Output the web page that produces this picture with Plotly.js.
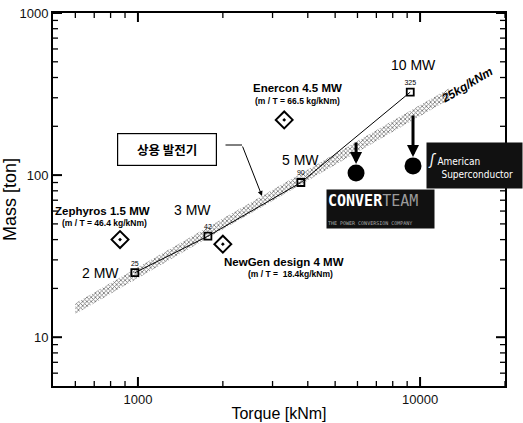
<!DOCTYPE html>
<html>
<head>
<meta charset="utf-8">
<script src="https://cdn.plot.ly/plotly-3.0.1.min.js"></script>
<style>html,body{margin:0;padding:0;background:#fff;}#chart{width:523px;height:423px;}</style>
</head>
<body>
<div id="chart"></div>
<script>
// Generator design points (torque kNm, mass ton)
const genTorque = [975, 1770, 3780, 9230];
const genMass = [25, 42, 90, 325];
const genMassLabels = ['25', '42', '90', '325'];
const genPowerLabels = ['2 MW', '3 MW', '5 MW', '10 MW'];

// Reference machines (diamonds)
const refNames = ['Zephyros 1.5 MW', 'NewGen design 4 MW', 'Enercon 4.5 MW'];
const refRatios = ['(m / T = 46.4 kg/kNm)', '(m / T =  18.4kg/kNm)', '(m / T = 66.5 kg/kNm)'];
const refTorque = [864, 2000, 3300];
const refMass = [40, 37.5, 219];

// Superconducting machines (filled circles)
const hts = ['Converteam', 'American Superconductor'];
const htsTorque = [5930, 9440];
const htsMass = [103, 114];

// 25 kg/kNm band
const bandTorque = [600, 12700];
const bandRatio = 25;   // kg/kNm
const bandSpread = 1.08;

// axis ticks
const xMajor = [1000, 10000];
const xMinor = [600, 700, 800, 900, 2000, 3000, 4000, 5000, 6000, 7000, 8000, 9000, 20000];
const yMajor = [10, 100, 1000];
const yMinor = [6, 7, 8, 9, 20, 30, 40, 50, 60, 70, 80, 90, 200, 300, 400, 500, 600, 700, 800, 900];

const font = 'Liberation Sans, Arial, sans-serif';

// helper: pixel -> paper
const L = 53, R = 505, T = 13, B = 386;
const W = R - L, H = B - T;
function px(x) { return (x - L) / W; }
function py(y) { return (B - y) / H; }

const xr = [Math.log10(500), Math.log10(20000)];
const yr = [Math.log10(5), 3];
const dX = xr[1] - xr[0], dY = yr[1] - yr[0];

const bandX = [bandTorque[0], bandTorque[1], bandTorque[1], bandTorque[0], bandTorque[0]];
const bandY = [
  bandTorque[0] * bandRatio / 1000 / bandSpread,
  bandTorque[1] * bandRatio / 1000 / bandSpread,
  bandTorque[1] * bandRatio / 1000 * bandSpread,
  bandTorque[0] * bandRatio / 1000 * bandSpread,
  bandTorque[0] * bandRatio / 1000 / bandSpread
];

// frame tick marks (all four sides) built from the tick arrays
function tickTrace(xv, yv, len, w) {
  const xs = [], ys = [];
  const y0 = Math.pow(10, yr[0]), y1 = Math.pow(10, yr[1]);
  const yIn0 = Math.pow(10, yr[0] + len / H * dY), yIn1 = Math.pow(10, yr[1] - len / H * dY);
  xv.forEach(v => { xs.push(v, v, null, v, v, null); ys.push(y0, yIn0, null, y1, yIn1, null); });
  const x0 = Math.pow(10, xr[0]), x1 = Math.pow(10, xr[1]);
  const xIn0 = Math.pow(10, xr[0] + len / W * dX), xIn1 = Math.pow(10, xr[1] - len / W * dX);
  yv.forEach(v => { xs.push(x0, xIn0, null, x1, xIn1, null); ys.push(v, v, null, v, v, null); });
  return {x: xs, y: ys, type: 'scatter', mode: 'lines', connectgaps: false,
    line: {color: '#000', width: w}, hoverinfo: 'skip', showlegend: false, cliponaxis: true};
}

const traces = [
  {
    x: bandX, y: bandY, type: 'scatter', mode: 'lines', fill: 'toself',
    line: {width: 0, color: 'rgba(0,0,0,0)'},
    fillcolor: 'rgba(255,255,255,0)',
    fillpattern: {shape: 'x', fgcolor: '#707070', bgcolor: '#ffffff', size: 3, solidity: 0.45},
    hoverinfo: 'skip', showlegend: false
  },
  tickTrace(xMajor, yMajor, 9, 2),
  tickTrace(xMinor, yMinor, 5, 1.3),
  {
    x: genTorque, y: genMass, type: 'scatter', mode: 'lines+markers+text',
    text: genMassLabels, textposition: 'top center',
    textfont: {family: font, size: 7, color: '#000'},
    line: {color: '#000', width: 1},
    marker: {symbol: 'square-open', size: 7, color: '#000', line: {width: 1.8, color: '#000'}},
    showlegend: false, cliponaxis: false
  },
  {
    x: refTorque, y: refMass, type: 'scatter', mode: 'markers',
    marker: {symbol: 'diamond-open-dot', size: 13, color: '#000', line: {width: 2, color: '#000'}},
    showlegend: false
  },
  {
    x: htsTorque, y: htsMass, type: 'scatter', mode: 'markers',
    marker: {symbol: 'circle', size: 17, color: '#000'},
    showlegend: false
  }
];

const ann = [];
function txt(x, y, text, size, opts) {
  ann.push(Object.assign({xref: 'paper', yref: 'paper', x: px(x), y: py(y), text: text,
    showarrow: false, xanchor: 'center', yanchor: 'middle',
    font: {family: font, size: size, color: '#000'}}, opts || {}));
}

// reference machine labels
txt(102, 211, '<b>' + refNames[0] + '</b>', 11.5);
txt(104, 223, '<b>' + refRatios[0] + '</b>', 8.5);
txt(284, 262, '<b>' + refNames[1] + '</b>', 11.5);
txt(290, 274, '<b>' + refRatios[1] + '</b>', 8.5);
txt(297, 88, '<b>' + refNames[2] + '</b>', 11.5);
txt(297, 101, '<b>' + refRatios[2] + '</b>', 8.5);

// power labels
txt(100, 273, genPowerLabels[0], 14);
txt(192, 210, genPowerLabels[1], 14);
txt(300, 160, genPowerLabels[2], 14);
txt(413, 65, genPowerLabels[3], 14);

// band label
txt(467, 85, '<b><i>25kg/kNm</i></b>', 12, {textangle: -31});

// Korean label box
txt(167, 149, '<b>상용 발전기</b>', 12.5, {
  font: {family: 'Noto Sans CJK KR, sans-serif', size: 12.5, color: '#000'},
  bordercolor: '#000', borderwidth: 1.2, width: 96, height: 29, bgcolor: '#fff'
});
// leader from box to band: short horizontal piece, then arrow
ann.push({xref: 'paper', yref: 'paper', x: px(242), y: py(145), ax: 224 - 242, ay: 0,
  text: '', showarrow: true, arrowhead: 0, arrowwidth: 1, arrowcolor: '#000'});
ann.push({xref: 'paper', yref: 'paper', x: px(262), y: py(196), ax: 242 - 262, ay: 145 - 196,
  text: '', showarrow: true, arrowhead: 2, arrowsize: 1, arrowwidth: 1, arrowcolor: '#000'});

// arrows onto HTS machines
ann.push({xref: 'x', yref: 'y', x: Math.log10(htsTorque[0]), y: Math.log10(htsMass[0]),
  ax: 0, ay: -32, text: '', showarrow: true, arrowhead: 2, arrowsize: 0.8, arrowwidth: 3,
  standoff: 9, arrowcolor: '#000'});
ann.push({xref: 'x', yref: 'y', x: Math.log10(htsTorque[1]), y: Math.log10(htsMass[1]),
  ax: 0, ay: -52, text: '', showarrow: true, arrowhead: 2, arrowsize: 0.8, arrowwidth: 3,
  standoff: 9, arrowcolor: '#000'});

// logos
txt(380, 209, '<b>CONVER</b><span style="color:#9a9a9a">TEAM</span><br><span style="font-size:5px;color:#aaa">THE POWER CONVERSION COMPANY</span>', 15, {
  font: {family: 'DejaVu Sans Mono, monospace', size: 15, color: '#fff'},
  bgcolor: '#111', width: 105, height: 36, align: 'left'
});
txt(474, 165, '<span style="font-size:15px"><i>ʃ</i></span> American<br>    Superconductor', 10, {
  font: {family: 'DejaVu Sans Condensed, sans-serif', size: 10, color: '#fff'},
  bgcolor: '#111', width: 93, height: 43, align: 'left'
});

const axisCommon = {
  showgrid: false, zeroline: false, showline: true, linecolor: '#000', linewidth: 2, mirror: true,
  ticks: ''
};

const layout = {
  width: 523, height: 423,
  margin: {l: L, r: 523 - R, t: T, b: 423 - B},
  showlegend: false,
  font: {family: font, size: 13, color: '#000'},
  xaxis: Object.assign({}, axisCommon, {
    type: 'log', range: xr,
    tickvals: xMajor, ticktext: xMajor.map(String),
    tickfont: {family: font, size: 13, color: '#111'},
    title: {text: 'Torque [kNm]', font: {family: font, size: 16, color: '#000'}, standoff: 2}
  }),
  yaxis: Object.assign({}, axisCommon, {
    type: 'log', range: yr,
    tickvals: yMajor, ticktext: yMajor.map(String),
    tickfont: {family: font, size: 13, color: '#111'},
    title: {text: 'Mass [ton]', font: {family: font, size: 18, color: '#000'}, standoff: 2}
  }),
  annotations: ann
};

Plotly.newPlot('chart', traces, layout, {displayModeBar: false});
</script>
</body>
</html>
